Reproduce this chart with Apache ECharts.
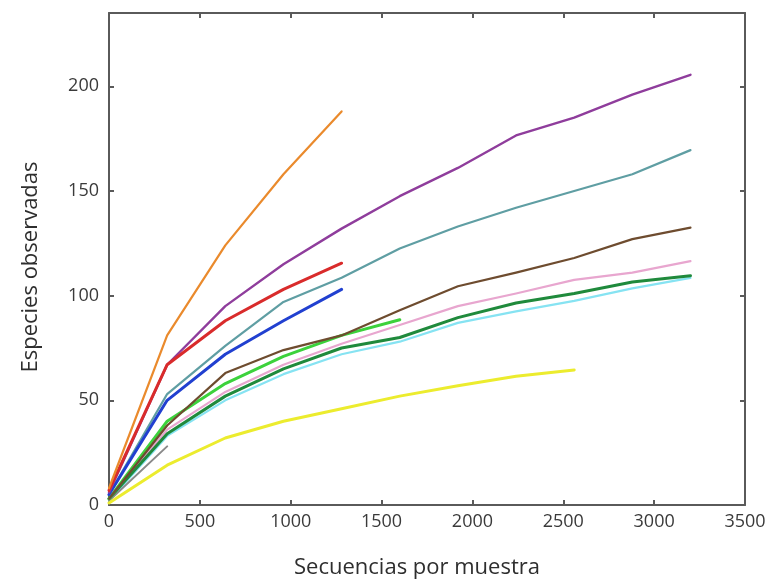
<!DOCTYPE html>
<html>
<head>
<meta charset="utf-8">
<script src="https://cdn.jsdelivr.net/npm/echarts@6/dist/echarts.min.js"></script>
<style>
  html, body { margin: 0; padding: 0; background: #ffffff; }
  #chart { width: 772px; height: 586px; }
</style>
</head>
<body>
<div id="chart"></div>
<script>
// Rarefaction depths (sequences per sample)
const depths = [0, 320, 640, 960, 1280, 1600, 1920, 2240, 2560, 2880, 3200];

// Observed species at each depth, one array per sample
const orange    = [8, 81, 124, 158, 188];
const red       = [7, 67, 88, 103, 115.5];
const blue      = [5, 50, 72, 88, 103];
const purple    = [6, 67, 95, 115, 132, 147.5, 161, 176.5, 185, 196, 205.5];
const teal      = [5, 53, 76, 97, 108.5, 122.5, 133, 142, 150, 158, 169.5];
const brown     = [3, 38, 63, 74, 81, 93, 104.5, 111, 118, 127, 132.5];
const limeGreen = [3, 40, 58, 71, 81, 88.5];
const pink      = [3, 36, 54, 67, 77, 86, 95, 101, 107.5, 111, 116.5];
const darkGreen = [3, 34, 52, 65, 75, 80, 89.5, 96.5, 101, 106.5, 109.5];
const cyan      = [2, 33, 50, 62.5, 72, 78, 87, 92.5, 97.5, 103.5, 108.5];
const yellow    = [1, 19, 32, 40, 46, 52, 57, 61.5, 64.5];
const gray      = [2, 28];

const xTicks = [0, 500, 1000, 1500, 2000, 2500, 3000, 3500];
const yTicks = [0, 50, 100, 150, 200];

function pairs(values) {
  return values.map((v, i) => [depths[i], v]);
}

const lines = [
  { name: 'cyan',      values: cyan,      color: '#86e3f2', width: 2.2 },
  { name: 'pink',      values: pink,      color: '#e8a6cf', width: 2.2 },
  { name: 'gray',      values: gray,      color: '#8a8a8a', width: 2 },
  { name: 'yellow',    values: yellow,    color: '#ecec2e', width: 3 },
  { name: 'darkGreen', values: darkGreen, color: '#1f8a3c', width: 3 },
  { name: 'limeGreen', values: limeGreen, color: '#3cd23c', width: 3 },
  { name: 'brown',     values: brown,     color: '#6e4c2f', width: 2.2 },
  { name: 'teal',      values: teal,      color: '#5f9ea3', width: 2.2 },
  { name: 'blue',      values: blue,      color: '#2140d0', width: 3 },
  { name: 'purple',    values: purple,    color: '#8f3d9c', width: 2.4 },
  { name: 'red',       values: red,       color: '#d92b2b', width: 3 },
  { name: 'orange',    values: orange,    color: '#ea8a2c', width: 2.2 }
];

const frameColor = '#5a5a5a';
const labelStyle = { color: '#3a3a3a', fontSize: 18, fontFamily: 'Open Sans' };
const titleStyle = { color: '#2e2e2e', fontSize: 22, fontFamily: 'Open Sans' };

// shared look of the four frame edges
function edge(extra) {
  return Object.assign({
    type: 'value',
    axisLine: { show: true, onZero: false, lineStyle: { color: frameColor, width: 2 } },
    axisTick: { show: true, inside: true, length: 5, lineStyle: { color: frameColor, width: 2 } },
    splitLine: { show: false }
  }, extra);
}

const chart = echarts.init(document.getElementById('chart'), null, { renderer: 'canvas' });

chart.setOption({
  animation: false,
  backgroundColor: '#ffffff',
  grid: { left: 109, right: 27, top: 13, bottom: 81, show: false },
  xAxis: [
    edge({
      position: 'bottom', min: 0, max: 3500, interval: 500,
      name: 'Secuencias por muestra', nameLocation: 'middle', nameGap: 52,
      nameTextStyle: Object.assign({ padding: [0, 20, 0, 0] }, titleStyle),
      axisLabel: Object.assign({ margin: 8, formatter: v => xTicks.includes(v) ? String(v) : '' }, labelStyle)
    }),
    edge({
      position: 'top', min: 0, max: 3500, interval: 500,
      axisLabel: { show: false }
    })
  ],
  yAxis: [
    edge({
      position: 'left', min: 0, max: 235, interval: 50,
      name: 'Especies observadas', nameLocation: 'middle', nameGap: 67,
      nameTextStyle: Object.assign({ padding: [0, 16, 0, 0] }, titleStyle),
      axisLabel: Object.assign({ margin: 10, formatter: v => yTicks.includes(v) ? String(v) : '' }, labelStyle)
    }),
    edge({
      position: 'right', min: 0, max: 235, interval: 50,
      axisLabel: { show: false }
    })
  ],
  series: lines.map(s => ({
    name: s.name,
    type: 'line',
    xAxisIndex: 0,
    yAxisIndex: 0,
    data: pairs(s.values),
    showSymbol: false,
    symbol: 'none',
    lineStyle: { color: s.color, width: s.width, cap: 'round', join: 'round' },
    emphasis: { disabled: true }
  }))
});
</script>
</body>
</html>
